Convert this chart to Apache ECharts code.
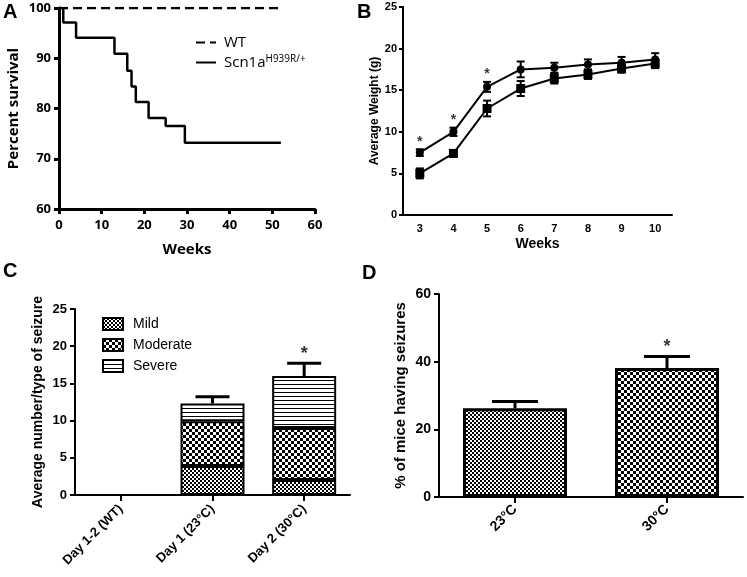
<!DOCTYPE html>
<html>
<head>
<meta charset="utf-8">
<script src="https://cdn.jsdelivr.net/npm/echarts@6/dist/echarts.min.js"></script>
<style>
  html, body { margin: 0; padding: 0; background: #fff; }
  #main { width: 747px; height: 577px; }
</style>
</head>
<body>
<div id="main"></div>
<script>
// A - survival (Kaplan-Meier steps)
const survWeeks = [0, 1, 4, 13, 16, 17, 18, 21, 25, 29.5, 52]
const survScn1a = [100, 97.1, 94.1, 90.9, 87.5, 84.4, 81.3, 78.1, 76.5, 73.2, 73.2]
const wtWeeks = [0, 52]
const wtSurv = [100, 100]

// B - weight by week
const weekLabels = ['3', '4', '5', '6', '7', '8', '9', '10']
const weightUpper = [7.5, 10.0, 15.4, 17.5, 17.7, 18.1, 18.3, 18.7]
const weightUpperErr = [0.4, 0.5, 0.6, 0.95, 0.6, 0.6, 0.7, 0.75]
const weightLower = [5.0, 7.4, 12.8, 15.2, 16.4, 16.9, 17.6, 18.2]
const weightLowerErr = [0.6, 0.35, 0.95, 0.9, 0.6, 0.55, 0.5, 0.55]
const weightSig = ['3', '4', '5']

// C - seizure types
const dayLabels = ['Day 1-2 (WT)', 'Day 1 (23°C)', 'Day 2 (30°C)']
const mild = [0, 3.9, 2.0]
const moderate = [0, 6.0, 7.0]
const severe = [0, 2.4, 7.0]
const totalErr = [0, 0.9, 1.7]
const daySig = ['Day 2 (30°C)']

// D - % of mice having seizures
const tempLabels = ['23°C', '30°C']
const pctSeizure = [26.2, 38.1]
const pctErr = [2.0, 3.4]
const tempSig = ['30°C']

// 填充图案
function checker(cell) {
    const c = document.createElement('canvas')
    c.width = c.height = cell * 2
    const g = c.getContext('2d')
    g.fillStyle = '#fff'
    g.fillRect(0, 0, cell * 2, cell * 2)
    g.fillStyle = '#000'
    g.fillRect(0, 0, cell, cell)
    g.fillRect(cell, cell, cell, cell)
    return { image: c, repeat: 'repeat' }
}
function hlines(period) {
    const c = document.createElement('canvas')
    c.width = 4
    c.height = period
    const g = c.getContext('2d')
    g.fillStyle = '#fff'
    g.fillRect(0, 0, 4, period)
    g.fillStyle = '#000'
    g.fillRect(0, 0, 4, 1)
    return { image: c, repeat: 'repeat' }
}

function errorBar(capHalf, upOnly, lw) {
    return function (params, api) {
        const i = api.value(0), v = api.value(1), e = api.value(2)
        if (!e) return null
        const top = api.coord([i, v + e])
        const bot = api.coord([i, upOnly ? v : v - e])
        const style = { stroke: '#000', lineWidth: lw }
        const kids = [
            { type: 'line', shape: { x1: top[0], y1: top[1], x2: bot[0], y2: bot[1] }, style },
            { type: 'line', shape: { x1: top[0] - capHalf, y1: top[1], x2: top[0] + capHalf, y2: top[1] }, style }
        ]
        if (!upOnly) {
            kids.push({ type: 'line', shape: { x1: bot[0] - capHalf, y1: bot[1], x2: bot[0] + capHalf, y2: bot[1] }, style })
        }
        return { type: 'group', children: kids }
    }
}

const ARIAL = 'Liberation Sans'
const CALIBRI = 'Open Sans'

function axisStyle(font, size, width) {
    return {
        axisLine: { show: true, onZero: false, lineStyle: { color: '#000', width: width } },
        axisTick: { show: true, length: 5, lineStyle: { color: '#000', width: width } },
        axisLabel: { color: '#000', fontWeight: 'bold', fontFamily: font, fontSize: size, margin: 8 },
        splitLine: { show: false },
        nameTextStyle: { color: '#000', fontWeight: 'bold', fontFamily: font },
        nameLocation: 'middle'
    }
}

function star(labels, values, errs, grid, size, dist) {
    const cats = grid === 1 ? weekLabels : grid === 2 ? dayLabels : tempLabels
    return {
        type: 'scatter', xAxisIndex: grid, yAxisIndex: grid,
        symbolSize: 1, itemStyle: { color: 'transparent' },
        data: labels.map(l => {
            const i = cats.indexOf(l)
            return [i, values[i] + errs[i]]
        }),
        label: { show: true, formatter: '*', position: 'top', distance: dist, color: '#000', fontSize: size, fontWeight: 'bold', fontFamily: ARIAL },
        silent: true, z: 5
    }
}

const cTotals = mild.map((m, i) => m + moderate[i] + severe[i])

const chart = echarts.init(document.getElementById('main'))
chart.setOption({
    animation: false,
    grid: [
        { left: 59, top: 8, width: 256, height: 201 },
        { left: 403, top: 7, width: 269, height: 208 },
        { left: 75, top: 309, width: 275, height: 186 },
        { left: 439, top: 294, width: 304, height: 203 }
    ],
    xAxis: [
        Object.assign(axisStyle(CALIBRI, 13, 3), {
            gridIndex: 0, type: 'value', min: 0, max: 60, interval: 10,
            name: 'Weeks', nameGap: 33,
            axisLabel: { color: '#000', fontWeight: 'bold', fontFamily: CALIBRI, fontSize: 13, margin: 10 },
            nameTextStyle: { color: '#000', fontWeight: 'bold', fontFamily: CALIBRI, fontSize: 15 }
        }),
        Object.assign(axisStyle(ARIAL, 11, 2), {
            gridIndex: 1, type: 'category', data: weekLabels, boundaryGap: true,
            axisTick: { show: false },
            axisLabel: { color: '#000', fontWeight: 'bold', fontFamily: ARIAL, fontSize: 11, margin: 8 },
            name: 'Weeks', nameGap: 22,
            nameTextStyle: { color: '#000', fontWeight: 'bold', fontFamily: ARIAL, fontSize: 14 }
        }),
        Object.assign(axisStyle(ARIAL, 13, 2), {
            gridIndex: 2, type: 'category', data: dayLabels,
            axisTick: { show: true, alignWithLabel: true, length: 6, lineStyle: { color: '#000', width: 2 } },
            axisLabel: { color: '#000', fontWeight: 'bold', fontFamily: ARIAL, fontSize: 13, rotate: 45, margin: 12 }
        }),
        Object.assign(axisStyle(ARIAL, 14, 2), {
            gridIndex: 3, type: 'category', data: tempLabels,
            axisTick: { show: true, alignWithLabel: true, length: 6, lineStyle: { color: '#000', width: 2 } },
            axisLabel: { color: '#000', fontWeight: 'bold', fontFamily: ARIAL, fontSize: 14, rotate: 45, margin: 10 }
        })
    ],
    yAxis: [
        Object.assign(axisStyle(CALIBRI, 13, 3), {
            gridIndex: 0, type: 'value', min: 60, max: 100, interval: 10,
            name: 'Percent survival', nameGap: 38,
            nameTextStyle: { color: '#000', fontWeight: 'bold', fontFamily: CALIBRI, fontSize: 15 }
        }),
        Object.assign(axisStyle(ARIAL, 11, 2), {
            gridIndex: 1, type: 'value', min: 0, max: 25, interval: 5,
            axisTick: { show: true, length: 4, lineStyle: { color: '#000', width: 2 } },
            axisLabel: { color: '#000', fontWeight: 'bold', fontFamily: ARIAL, fontSize: 11, margin: 6 },
            name: 'Average Weight (g)', nameGap: 20,
            nameTextStyle: { color: '#000', fontWeight: 'bold', fontFamily: ARIAL, fontSize: 12 }
        }),
        Object.assign(axisStyle(ARIAL, 13, 2), {
            gridIndex: 2, type: 'value', min: 0, max: 25, interval: 5,
            name: 'Average number/type of seizure', nameGap: 30,
            nameTextStyle: { color: '#000', fontWeight: 'bold', fontFamily: ARIAL, fontSize: 14 }
        }),
        Object.assign(axisStyle(ARIAL, 14, 2), {
            gridIndex: 3, type: 'value', min: 0, max: 60, interval: 20,
            name: '% of mice having seizures', nameGap: 31,
            nameTextStyle: { color: '#000', fontWeight: 'bold', fontFamily: ARIAL, fontSize: 15 }
        })
    ],
    legend: [
        {
            left: 190, top: 30, orient: 'vertical', itemWidth: 20, itemHeight: 12, itemGap: 4,
            data: ['WT', 'Scn1a'],
            itemStyle: { opacity: 0 },
            formatter: n => n === 'Scn1a' ? 'Scn1a{sup|H939R/+}' : n,
            textStyle: {
                color: '#000', fontFamily: CALIBRI, fontSize: 15, padding: [0, 0, 0, 3],
                rich: { sup: { fontSize: 10, fontFamily: CALIBRI, color: '#000', verticalAlign: 'bottom', padding: [0, 0, 7, 0] } }
            }
        },
        {
            left: 97, top: 312, orient: 'vertical', itemWidth: 20, itemHeight: 12, itemGap: 7,
            icon: 'rect',
            data: ['Mild', 'Moderate', 'Severe'],
            textStyle: { color: '#000', fontFamily: ARIAL, fontSize: 14, padding: [0, 0, 0, 5] }
        }
    ],
    graphic: [
        { type: 'text', left: 3, top: 2, style: { text: 'A', font: 'bold 20px "Liberation Sans"', fill: '#000' } },
        { type: 'text', left: 357, top: 2, style: { text: 'B', font: 'bold 20px "Liberation Sans"', fill: '#000' } },
        { type: 'text', left: 3, top: 261, style: { text: 'C', font: 'bold 20px "Liberation Sans"', fill: '#000' } },
        { type: 'text', left: 362, top: 263, style: { text: 'D', font: 'bold 20px "Liberation Sans"', fill: '#000' } }
    ],
    series: [
        // A
        {
            name: 'WT', type: 'line', xAxisIndex: 0, yAxisIndex: 0, symbol: 'none', color: '#000',
            data: wtWeeks.map((w, i) => [w, wtSurv[i]]),
            lineStyle: { color: '#000', width: 2.5, type: [9, 5] }, z: 3
        },
        {
            name: 'Scn1a', type: 'line', xAxisIndex: 0, yAxisIndex: 0, symbol: 'none', step: 'end', color: '#000',
            data: survWeeks.map((w, i) => [w, survScn1a[i]]),
            lineStyle: { color: '#000', width: 2.5 }
        },
        // B
        {
            type: 'line', xAxisIndex: 1, yAxisIndex: 1, data: weightUpper,
            symbol: 'circle', symbolSize: 8, itemStyle: { color: '#000' }, lineStyle: { color: '#000', width: 2 }
        },
        {
            type: 'line', xAxisIndex: 1, yAxisIndex: 1, data: weightLower,
            symbol: 'rect', symbolSize: 9, itemStyle: { color: '#000' }, lineStyle: { color: '#000', width: 2 }
        },
        {
            type: 'custom', xAxisIndex: 1, yAxisIndex: 1, renderItem: errorBar(4, false, 2),
            encode: { x: 0, y: 1 }, data: weightUpper.map((v, i) => [i, v, weightUpperErr[i]]), z: 4
        },
        {
            type: 'custom', xAxisIndex: 1, yAxisIndex: 1, renderItem: errorBar(4, false, 2),
            encode: { x: 0, y: 1 }, data: weightLower.map((v, i) => [i, v, weightLowerErr[i]]), z: 4
        },
        star(weightSig, weightUpper, weightUpperErr, 1, 14, 0),
        // C
        {
            name: 'Mild', type: 'bar', stack: 'seiz', xAxisIndex: 2, yAxisIndex: 2, barWidth: 64,
            data: mild, itemStyle: { color: checker(2), borderColor: '#000', borderWidth: 2 }
        },
        {
            name: 'Moderate', type: 'bar', stack: 'seiz', xAxisIndex: 2, yAxisIndex: 2, barWidth: 64,
            data: moderate, itemStyle: { color: checker(3), borderColor: '#000', borderWidth: 2 }
        },
        {
            name: 'Severe', type: 'bar', stack: 'seiz', xAxisIndex: 2, yAxisIndex: 2, barWidth: 64,
            data: severe, itemStyle: { color: hlines(4), borderColor: '#000', borderWidth: 2 }
        },
        {
            type: 'custom', xAxisIndex: 2, yAxisIndex: 2, renderItem: errorBar(17, true, 3),
            encode: { x: 0, y: 1 }, data: cTotals.map((v, i) => [i, v, totalErr[i]]), z: 4
        },
        star(daySig, cTotals, totalErr, 2, 18, 0),
        // D
        {
            type: 'bar', xAxisIndex: 3, yAxisIndex: 3, barWidth: 104,
            data: pctSeizure.map((v, i) => ({
                value: v,
                itemStyle: { color: checker(i === 0 ? 2 : 3), borderColor: '#000', borderWidth: 3 }
            }))
        },
        {
            type: 'custom', xAxisIndex: 3, yAxisIndex: 3, renderItem: errorBar(23, true, 3),
            encode: { x: 0, y: 1 }, data: pctSeizure.map((v, i) => [i, v, pctErr[i]]), z: 4
        },
        star(tempSig, pctSeizure, pctErr, 3, 18, 0)
    ]
})
</script>
</body>
</html>
